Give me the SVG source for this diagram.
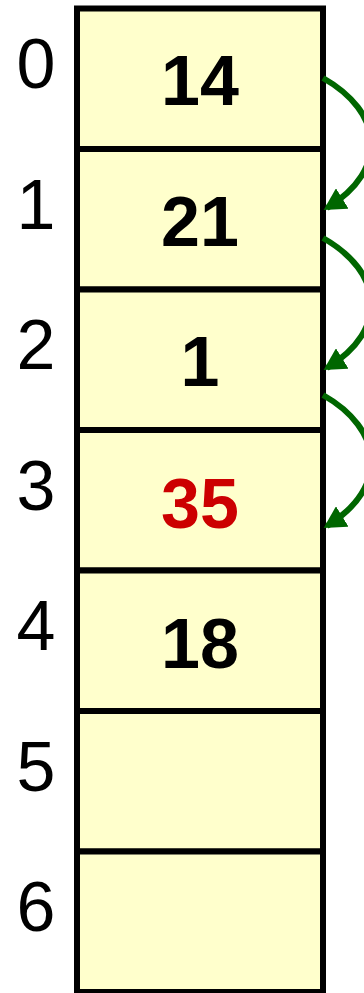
<svg xmlns="http://www.w3.org/2000/svg" width="364" height="993" viewBox="0 0 364 993">
<style>
.cell{fill:#FFFFCC;stroke:#000;stroke-width:6}
.val{font-family:"Liberation Sans",Arial,sans-serif;font-weight:bold;font-size:70px;text-anchor:middle;fill:#000}
.red{fill:#CC0000}
.idx{font-family:"Liberation Sans",Arial,sans-serif;font-size:70px;text-anchor:middle;fill:#000}
.arr{fill:none;stroke:#006600;stroke-width:6;marker-end:url(#ah)}
</style>
<defs>
<marker id="ah" viewBox="0 0 22 24" refX="18" refY="12" markerWidth="22" markerHeight="24" markerUnits="userSpaceOnUse" orient="auto">
<path d="M0,0 L22,12 L0,24 z" fill="#006600"/>
</marker>
</defs>
<g id="cell0"><rect class="cell" x="77" y="8.5" width="246" height="140.5"/><text class="val" x="200" y="105">14</text><text class="idx" x="36" y="88">0</text></g>
<g id="cell1"><rect class="cell" x="77" y="149" width="246" height="140.5"/><text class="val" x="200" y="246">21</text><text class="idx" x="36" y="228.5">1</text></g>
<g id="cell2"><rect class="cell" x="77" y="289.5" width="246" height="140.5"/><text class="val" x="200" y="386">1</text><text class="idx" x="36" y="369">2</text></g>
<g id="cell3"><rect class="cell" x="77" y="430" width="246" height="140.5"/><text class="val red" x="200" y="528">35</text><text class="idx" x="36" y="509.5">3</text></g>
<g id="cell4"><rect class="cell" x="77" y="570.5" width="246" height="140.5"/><text class="val" x="200" y="668">18</text><text class="idx" x="36" y="650">4</text></g>
<g id="cell5"><rect class="cell" x="77" y="711" width="246" height="140.5"/><text class="idx" x="36" y="790.5">5</text></g>
<g id="cell6"><rect class="cell" x="77" y="851.5" width="246" height="140.5"/><text class="idx" x="36" y="931">6</text></g>
<g id="connectors">
<path class="arr" d="M323,78 C383,112 390,169 327,208"/>
<path class="arr" d="M323,238 C383,272 390,329 327,368"/>
<path class="arr" d="M323,395 C383,429 390,487 327,526"/>
</g>
</svg>
